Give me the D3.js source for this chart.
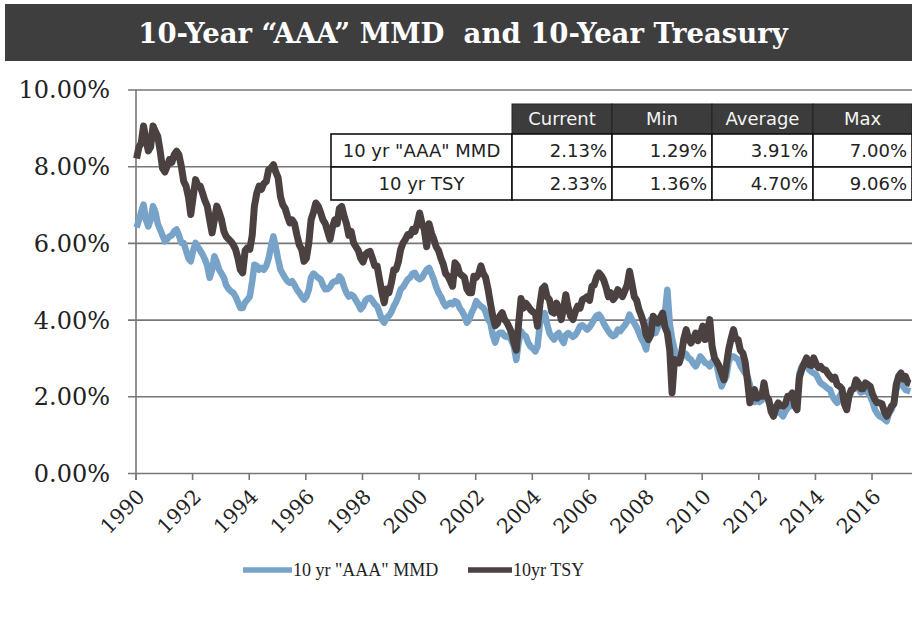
<!DOCTYPE html>
<html><head><meta charset="utf-8">
<script src="https://cdn.jsdelivr.net/npm/d3@7/dist/d3.min.js"></script>
<style>
html,body{margin:0;padding:0;background:#fff;}
svg{display:block;}
</style></head>
<body>
<svg id="chart" width="912" height="618"></svg>
<script>
// ---------------- DATA ----------------
const titleText = "10-Year \u201CAAA\u201D MMD  and 10-Year Treasury";
const seriesNames = ["10 yr \"AAA\" MMD", "10yr TSY"];
const startYear = 1990; // monthly observations starting January 1990
const yTickValues = [0, 2, 4, 6, 8, 10];
const xTickYears = [1990,1992,1994,1996,1998,2000,2002,2004,2006,2008,2010,2012,2014,2016];

const tsy = [
 8.2,8.5,8.6,9.05,8.7,8.4,8.5,9.05,8.9,8.78,8.4,7.95,
 7.85,8.0,8.17,8.1,8.3,8.39,8.3,8.0,7.6,7.48,7.2,6.74,
 7.2,7.65,7.5,7.48,7.3,7.1,6.96,6.6,6.26,6.6,6.96,6.8,
 6.6,6.3,6.17,6.1,6.04,5.95,5.83,5.6,5.3,5.22,5.8,5.87,
 5.83,6.2,6.96,7.3,7.48,7.4,7.55,7.6,7.91,7.95,8.04,7.85,
 7.7,7.2,7.0,6.9,6.7,6.52,6.6,6.5,6.2,5.95,5.83,5.52,
 5.6,6.0,6.6,6.8,7.04,6.96,6.8,6.6,6.5,6.3,6.09,6.4,
 6.6,6.5,6.9,6.95,6.7,6.5,6.2,6.3,6.0,5.9,5.8,5.6,
 5.5,5.7,5.75,5.78,5.6,5.4,5.4,5.05,4.7,4.44,4.8,4.7,
 4.96,5.3,5.3,5.5,5.83,6.0,6.09,6.22,6.2,6.35,6.3,6.5,
 6.78,6.5,6.35,5.9,6.5,6.26,6.1,5.9,5.8,5.6,5.44,5.2,
 5.13,5.0,4.87,5.48,5.4,5.2,5.15,5.1,4.8,4.7,4.7,5.13,
 5.1,5.2,5.4,5.2,5.1,4.8,4.44,4.1,3.84,3.9,4.1,4.18,
 4.0,3.92,3.8,3.66,3.4,3.2,3.9,4.55,4.3,4.43,4.35,4.26,
 4.2,4.17,3.83,4.4,4.8,4.87,4.6,4.52,4.2,4.17,4.43,4.3,
 4.0,4.3,4.65,4.3,4.09,4.0,4.2,4.35,4.3,4.52,4.55,4.6,
 4.5,4.87,4.9,5.1,5.22,5.15,5.04,4.85,4.6,4.7,4.52,4.6,
 4.78,4.7,4.6,4.75,4.9,5.26,4.95,4.6,4.5,4.26,4.1,3.9,
 3.6,3.48,3.6,4.09,4.0,3.91,4.05,4.17,3.8,3.65,3.2,2.09,
 2.96,2.9,2.87,3.1,3.5,3.74,3.5,3.39,3.5,3.65,3.45,3.6,
 3.83,3.48,3.7,4.0,3.3,3.0,2.9,2.78,2.6,2.43,2.8,3.22,
 3.5,3.74,3.5,3.48,3.2,3.13,2.9,2.4,1.83,2.1,2.17,1.95,
 2.0,2.0,2.35,2.0,1.91,1.6,1.48,1.7,1.83,1.75,1.74,1.8,
 2.0,2.0,2.09,1.75,1.65,2.5,2.7,2.85,3.0,2.83,2.8,3.0,
 2.85,2.75,2.78,2.7,2.69,2.6,2.52,2.45,2.5,2.3,2.26,2.2,
 1.8,1.65,2.0,2.17,2.2,2.43,2.35,2.2,2.2,2.35,2.3,2.26,
 2.05,1.91,1.83,1.83,1.8,1.6,1.48,1.6,1.74,1.8,2.3,2.52,
 2.61,2.45,2.52,2.35,2.33
];

const mmd = [
 6.4,6.6,6.8,7.0,6.6,6.43,6.6,6.96,6.8,6.5,6.35,6.2,
 6.04,6.1,6.17,6.2,6.3,6.35,6.2,6.0,6.0,5.8,5.6,5.52,
 5.8,6.0,5.9,5.8,5.7,5.57,5.4,5.09,5.3,5.65,5.5,5.3,
 5.2,5.09,4.9,4.8,4.74,4.7,4.6,4.45,4.3,4.3,4.45,4.52,
 4.6,5.0,5.43,5.4,5.3,5.35,5.3,5.4,5.6,5.9,6.17,5.9,
 5.57,5.3,5.2,5.09,5.0,4.96,5.0,4.9,4.78,4.7,4.6,4.52,
 4.6,4.78,5.1,5.2,5.15,5.09,5.05,4.9,4.79,4.8,4.85,4.96,
 5.0,5.0,5.13,5.05,4.85,4.7,4.6,4.65,4.61,4.5,4.4,4.27,
 4.35,4.5,4.55,4.57,4.5,4.4,4.35,4.18,4.0,3.92,4.05,4.1,
 4.2,4.35,4.45,4.6,4.79,4.85,4.95,5.05,5.1,5.2,5.22,5.1,
 5.05,5.1,5.2,5.3,5.35,5.2,5.05,4.85,4.7,4.6,4.45,4.35,
 4.4,4.44,4.4,4.48,4.45,4.3,4.22,4.1,3.92,4.0,4.18,4.3,
 4.48,4.4,4.35,4.31,4.2,4.0,3.92,3.6,3.4,3.6,3.66,3.66,
 3.57,3.55,3.6,3.45,3.3,2.95,3.4,3.7,3.6,3.57,3.4,3.3,
 3.25,3.17,3.3,3.9,4.1,4.17,3.9,3.65,3.55,3.48,3.6,3.65,
 3.5,3.39,3.6,3.65,3.6,3.55,3.6,3.7,3.83,3.85,3.8,3.74,
 3.8,3.9,4.0,4.1,4.13,4.05,3.91,3.8,3.7,3.62,3.57,3.6,
 3.74,3.7,3.78,3.85,3.95,4.13,4.0,3.91,3.8,3.65,3.5,3.4,
 3.22,3.6,4.0,3.8,3.65,3.8,3.91,3.9,4.2,4.78,3.9,3.5,
 3.22,3.0,2.87,3.0,3.13,3.1,3.0,2.96,2.85,2.78,2.9,3.04,
 2.96,2.87,2.85,2.78,2.9,2.96,2.8,2.5,2.26,2.4,2.52,2.9,
 3.04,3.04,3.0,2.96,2.8,2.7,2.6,2.52,2.3,2.1,1.85,1.9,
 1.85,1.9,2.0,2.0,1.85,1.74,1.65,1.57,1.6,1.55,1.48,1.6,
 1.7,1.74,1.8,1.83,1.9,2.6,2.78,2.87,2.85,2.7,2.65,2.6,
 2.57,2.45,2.35,2.3,2.26,2.2,2.17,2.0,1.9,1.83,2.0,2.1,
 1.85,1.7,1.95,2.13,2.2,2.26,2.2,2.1,2.12,2.17,2.1,2.0,
 1.85,1.65,1.55,1.48,1.45,1.4,1.35,1.57,1.65,1.83,2.17,2.35,
 2.35,2.25,2.17,2.15,2.13
];

const tableCols = ["Current", "Min", "Average", "Max"];
const tableRows = ["10 yr \"AAA\" MMD", "10 yr TSY"];
const tableVals = [
  ["2.13%", "1.29%", "3.91%", "7.00%"],
  ["2.33%", "1.36%", "4.70%", "9.06%"]
];

// ---------------- STYLE / LAYOUT ----------------
const colors = { mmd: "#78a3c9", tsy: "#4b4141" };
const serif = "'DejaVu Serif', Georgia, serif";
const serif2 = "'Liberation Serif', 'Times New Roman', serif";
const sans = "'DejaVu Sans', Verdana, sans-serif";

const svg = d3.select("#chart");

// title bar
svg.append("rect").attr("x", 5).attr("y", 4).attr("width", 907).attr("height", 57)
  .attr("fill", "#3e3e3e");
svg.append("text").attr("x", 463).attr("y", 43).attr("text-anchor", "middle")
  .attr("fill", "#fff").attr("font-family", serif).attr("font-weight", "bold")
  .attr("font-size", 27.5).style("white-space", "pre").text(titleText);

// scales
const x = d3.scaleTime()
  .domain([new Date(1990, 0, 1), new Date(2018, 0, 1)])
  .range([135.5, 135.5 + 28 * 28.31]);
const y = d3.scaleLinear().domain([0, 10]).range([473, 89.5]);

// gridlines + y labels
const yAxis = d3.axisLeft(y).tickValues(yTickValues)
  .tickSize(0).tickPadding(0)
  .tickFormat(d => d3.format(".2f")(d) + "%");
const gy = svg.append("g").call(yAxis);
gy.select(".domain").remove();
gy.selectAll(".tick line").attr("x1", 128).attr("x2", 912)
  .attr("stroke", "#777").attr("stroke-width", 1.6);
gy.selectAll(".tick text").attr("x", 110).attr("text-anchor", "end")
  .attr("dy", "0.35em")
  .attr("font-family", serif).attr("font-size", 24).attr("fill", "#222");

// y axis line
svg.append("line").attr("x1", 136).attr("x2", 136).attr("y1", y(10)).attr("y2", y(0) + 7)
  .attr("stroke", "#777").attr("stroke-width", 1.6);

// x axis ticks + labels
const xAxis = d3.axisBottom(x)
  .tickValues(xTickYears.map(yr => new Date(yr, 0, 1)))
  .tickSize(7).tickFormat(d3.timeFormat("%Y"));
const gx = svg.append("g").attr("transform", `translate(0,${y(0)})`).call(xAxis);
gx.select(".domain").remove();
gx.selectAll(".tick line").attr("stroke", "#777").attr("stroke-width", 1.6);
gx.selectAll(".tick text")
  .attr("font-family", serif).attr("font-size", 20.5).attr("fill", "#222")
  .attr("text-anchor", "end")
  .attr("y", 0).attr("dy", 0)
  .attr("transform", "translate(10,25) rotate(-45)");

// series lines
const dates = tsy.map((_, i) => new Date(startYear, i, 15));
const line = d3.line()
  .x((d, i) => x(dates[i]))
  .y(d => y(d));

svg.append("path").datum(mmd).attr("d", line)
  .attr("fill", "none").attr("stroke", colors.mmd).attr("stroke-width", 6.5)
  .attr("stroke-linejoin", "round");
svg.append("path").datum(tsy).attr("d", line)
  .attr("fill", "none").attr("stroke", colors.tsy).attr("stroke-width", 7)
  .attr("stroke-linejoin", "round");

// table
const colX = [331, 512, 612, 712, 813, 912];
const rowY = [104, 134, 167, 200];
const tbl = svg.append("g");
tableCols.forEach((c, j) => {
  tbl.append("rect").attr("x", colX[j + 1]).attr("y", rowY[0])
    .attr("width", colX[j + 2] - colX[j + 1]).attr("height", rowY[1] - rowY[0])
    .attr("fill", "#3c3c3c").attr("stroke", "#222").attr("stroke-width", 1);
  tbl.append("text").attr("x", (colX[j + 1] + colX[j + 2]) / 2).attr("y", (rowY[0] + rowY[1]) / 2)
    .attr("dy", "0.36em").attr("text-anchor", "middle")
    .attr("font-family", sans).attr("font-size", 18).attr("fill", "#f4f4f4").text(c);
});
tableRows.forEach((r, i) => {
  const y0 = rowY[i + 1], y1 = rowY[i + 2];
  tbl.append("rect").attr("x", colX[0]).attr("y", y0).attr("width", colX[1] - colX[0])
    .attr("height", y1 - y0).attr("fill", "#fff").attr("stroke", "#111").attr("stroke-width", 1.6);
  tbl.append("text").attr("x", (colX[0] + colX[1]) / 2).attr("y", (y0 + y1) / 2)
    .attr("dy", "0.36em").attr("text-anchor", "middle")
    .attr("font-family", sans).attr("font-size", 18).attr("fill", "#222").text(r);
  tableVals[i].forEach((v, j) => {
    tbl.append("rect").attr("x", colX[j + 1]).attr("y", y0).attr("width", colX[j + 2] - colX[j + 1])
      .attr("height", y1 - y0).attr("fill", "#fff").attr("stroke", "#111").attr("stroke-width", 1.6);
    tbl.append("text").attr("x", colX[j + 2] - 5).attr("y", (y0 + y1) / 2)
      .attr("dy", "0.36em").attr("text-anchor", "end")
      .attr("font-family", sans).attr("font-size", 18).attr("fill", "#222").text(v);
  });
});

// legend
const legend = [
  { name: seriesNames[0], color: colors.mmd, x1: 243, x2: 292 },
  { name: seriesNames[1], color: colors.tsy, x1: 468, x2: 512 }
];
legend.forEach(l => {
  svg.append("line").attr("x1", l.x1).attr("x2", l.x2).attr("y1", 570).attr("y2", 570)
    .attr("stroke", l.color).attr("stroke-width", 5.5);
  svg.append("text").attr("x", l.x2 + 1).attr("y", 570).attr("dy", "0.34em")
    .attr("font-family", serif2).attr("font-size", 18).attr("fill", "#222").text(l.name);
});
</script>
</body></html>
